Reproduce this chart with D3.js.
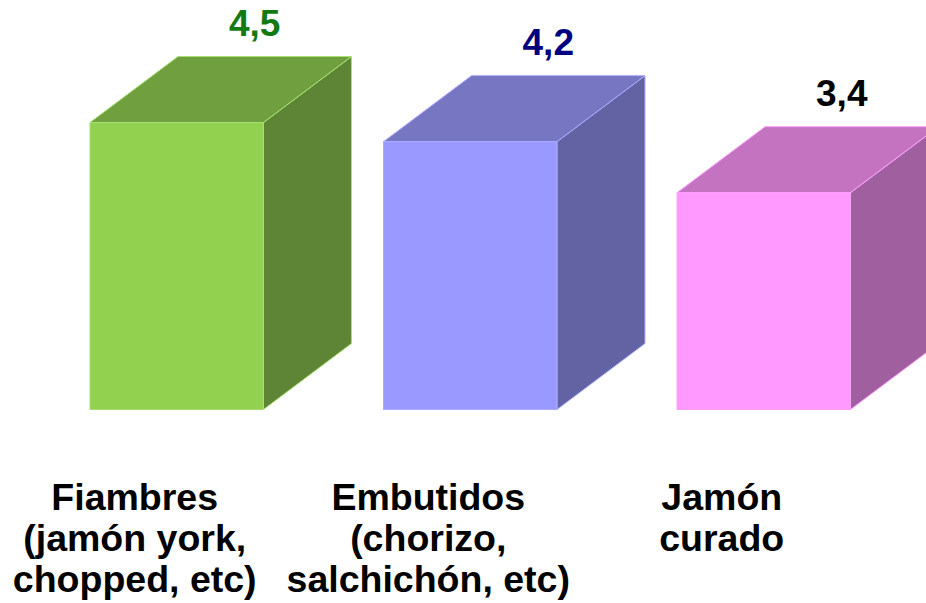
<!DOCTYPE html>
<html>
<head>
<meta charset="utf-8">
<script src="https://cdn.jsdelivr.net/npm/d3@7"></script>
<style>
  html, body { margin: 0; padding: 0; background: #ffffff; }
  svg { display: block; }
  text { font-family: "Liberation Sans", Arial, sans-serif; font-weight: bold; }
</style>
</head>
<body>
<script>
const categories = ["Fiambres", "Embutidos", "Jamón curado"];
const categoryLines = [
  ["Fiambres", "(jamón york,", "chopped, etc)"],
  ["Embutidos", "(chorizo,", "salchichón, etc)"],
  ["Jamón", "curado"]
];
const values = [4.5, 4.2, 3.4];
const valueLabels = ["4,5", "4,2", "3,4"];
const frontColors = ["#92d050", "#9999ff", "#ff99ff"];
const topColors = ["#6f9f3e", "#7676c2", "#c373c0"];
const sideColors = ["#5e8536", "#6363a3", "#a060a0"];
const edgeColors = ["#a8e070", "#aaaaff", "#ffa0ff"];
const labelColors = ["#137a13", "#000080", "#000000"];

const W = 926, H = 603;
const depthX = 88, depthY = 66;

const svg = d3.select("body").append("svg")
  .attr("width", W).attr("height", H);

const x = d3.scaleBand()
  .domain(categories)
  .range([90, 850.5])
  .paddingInner(0.409)
  .paddingOuter(0);

const y = d3.scaleLinear()
  .domain([0, 4.5])
  .range([409.5, 122.5]);

const data = categories.map((c, i) => ({ c, i, v: values[i] }));

const bars = svg.selectAll("g.bar").data(data).enter().append("g").attr("class", "bar");

// side face
bars.append("path")
  .attr("d", d => {
    const x1 = x(d.c) + x.bandwidth(), yT = y(d.v), yB = y(0);
    return `M${x1},${yB}L${x1},${yT}L${x1 + depthX},${yT - depthY}L${x1 + depthX},${yB - depthY}Z`;
  })
  .attr("fill", d => sideColors[d.i])
  .attr("stroke", d => edgeColors[d.i]).attr("stroke-width", 1);

// top face
bars.append("path")
  .attr("d", d => {
    const x0 = x(d.c), x1 = x0 + x.bandwidth(), yT = y(d.v);
    return `M${x0},${yT}L${x0 + depthX},${yT - depthY}L${x1 + depthX},${yT - depthY}L${x1},${yT}Z`;
  })
  .attr("fill", d => topColors[d.i])
  .attr("stroke", d => edgeColors[d.i]).attr("stroke-width", 1);

// front face
bars.append("rect")
  .attr("x", d => x(d.c))
  .attr("y", d => y(d.v))
  .attr("width", x.bandwidth())
  .attr("height", d => y(0) - y(d.v))
  .attr("fill", d => frontColors[d.i])
  .attr("stroke", d => edgeColors[d.i]).attr("stroke-width", 1);

// value labels
bars.append("text")
  .attr("x", d => x(d.c) + x.bandwidth() / 2 + depthX - 10)
  .attr("y", d => y(d.v) - depthY - 21)
  .attr("text-anchor", "middle")
  .attr("font-size", 37)
  .attr("fill", d => labelColors[d.i])
  .text(d => valueLabels[d.i]);

// category labels
const catG = svg.selectAll("text.cat").data(data).enter().append("text")
  .attr("class", "cat")
  .attr("text-anchor", "middle")
  .attr("font-size", 37.5)
  .attr("fill", "#000");
catG.each(function(d) {
  const t = d3.select(this);
  categoryLines[d.i].forEach((line, k) => {
    t.append("tspan")
      .attr("x", x(d.c) + x.bandwidth() / 2 - 42)
      .attr("y", 510 + k * 41)
      .text(line);
  });
});
</script>
</body>
</html>
